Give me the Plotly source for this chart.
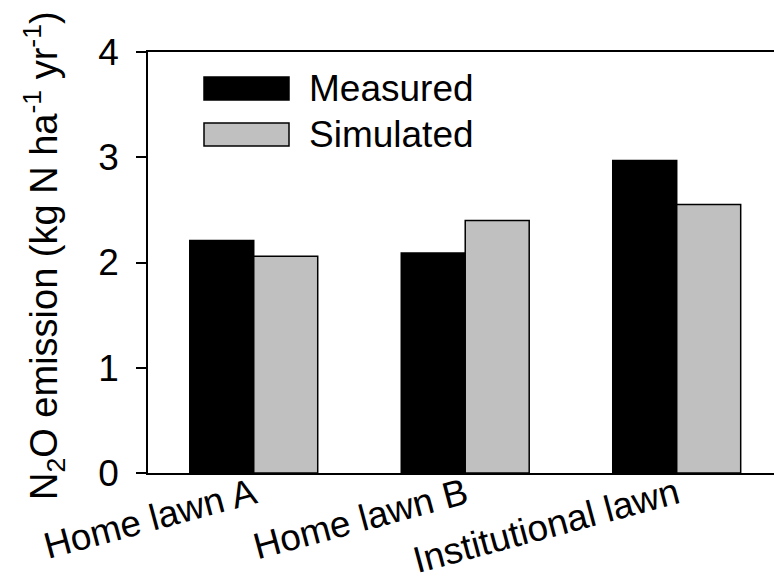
import plotly.graph_objects as go

categories = ["Home lawn A", "Home lawn B", "Institutional lawn"]
measured = [2.21, 2.09, 2.97]
simulated = [2.06, 2.40, 2.55]
y_ticks = [0, 1, 2, 3, 4]
series_names = ["Measured", "Simulated"]
y_title = "N<sub>2</sub>O emission (kg N ha<sup>-1</sup> yr<sup>-1</sup>)"

W, H = 774, 583
ML, MR, MT, MB = 148, 0, 52, 110
PW, PH = W - ML - MR, H - MT - MB

def px(x):
    return (x - ML) / PW

def py(y):
    return (H - MB - y) / PH

FONT = "Liberation Sans, Arial, sans-serif"

fig = go.Figure()
fig.add_trace(go.Bar(x=categories, y=measured, name=series_names[0],
                     marker=dict(color="black", line=dict(color="black", width=1.5))))
fig.add_trace(go.Bar(x=categories, y=simulated, name=series_names[1],
                     marker=dict(color="#c0c0c0", line=dict(color="black", width=1.5))))

fig.update_layout(
    width=W, height=H,
    margin=dict(l=ML, r=MR, t=MT, b=MB, autoexpand=False),
    paper_bgcolor="white", plot_bgcolor="white",
    barmode="group", bargap=0.395, bargroupgap=0,
    showlegend=False,
    font=dict(family=FONT, color="black"),
)
fig.update_xaxes(
    range=[-0.5, 2.46], showline=True, linecolor="black", linewidth=1.5, mirror=True,
    ticks="", tickangle=-15, tickfont=dict(size=37, family=FONT, color="black"),
    ticklabelstandoff=-16,
    showgrid=False, zeroline=False, automargin=False,
)
fig.update_yaxes(
    range=[0, 4], tickvals=y_ticks, showline=True, linecolor="black", linewidth=1.5,
    ticks="outside", ticklen=10, tickwidth=1.5, tickcolor="black",
    ticklabelstandoff=10,
    tickfont=dict(size=37, family=FONT, color="black"),
    showgrid=False, zeroline=False, automargin=False,
)

# y-axis title as rotated annotation
fig.add_annotation(xref="paper", yref="paper", x=px(44), y=py(256), text=y_title,
                   textangle=-90, showarrow=False, xanchor="center", yanchor="middle",
                   font=dict(size=38, family=FONT, color="black"))

# legend drawn as boxes + labels
fig.add_shape(type="rect", xref="paper", yref="paper",
              x0=px(204), x1=px(289), y0=py(100), y1=py(77),
              fillcolor="black", line=dict(color="black", width=1.5))
fig.add_shape(type="rect", xref="paper", yref="paper",
              x0=px(204), x1=px(289), y0=py(146), y1=py(123),
              fillcolor="#c0c0c0", line=dict(color="black", width=1.5))
fig.add_annotation(xref="paper", yref="paper", x=px(307), y=py(89), text=series_names[0],
                   showarrow=False, xanchor="left", yanchor="middle",
                   font=dict(size=37, family=FONT, color="black"))
fig.add_annotation(xref="paper", yref="paper", x=px(307), y=py(134), text=series_names[1],
                   showarrow=False, xanchor="left", yanchor="middle",
                   font=dict(size=37, family=FONT, color="black"))

fig.write_html("out.html")
